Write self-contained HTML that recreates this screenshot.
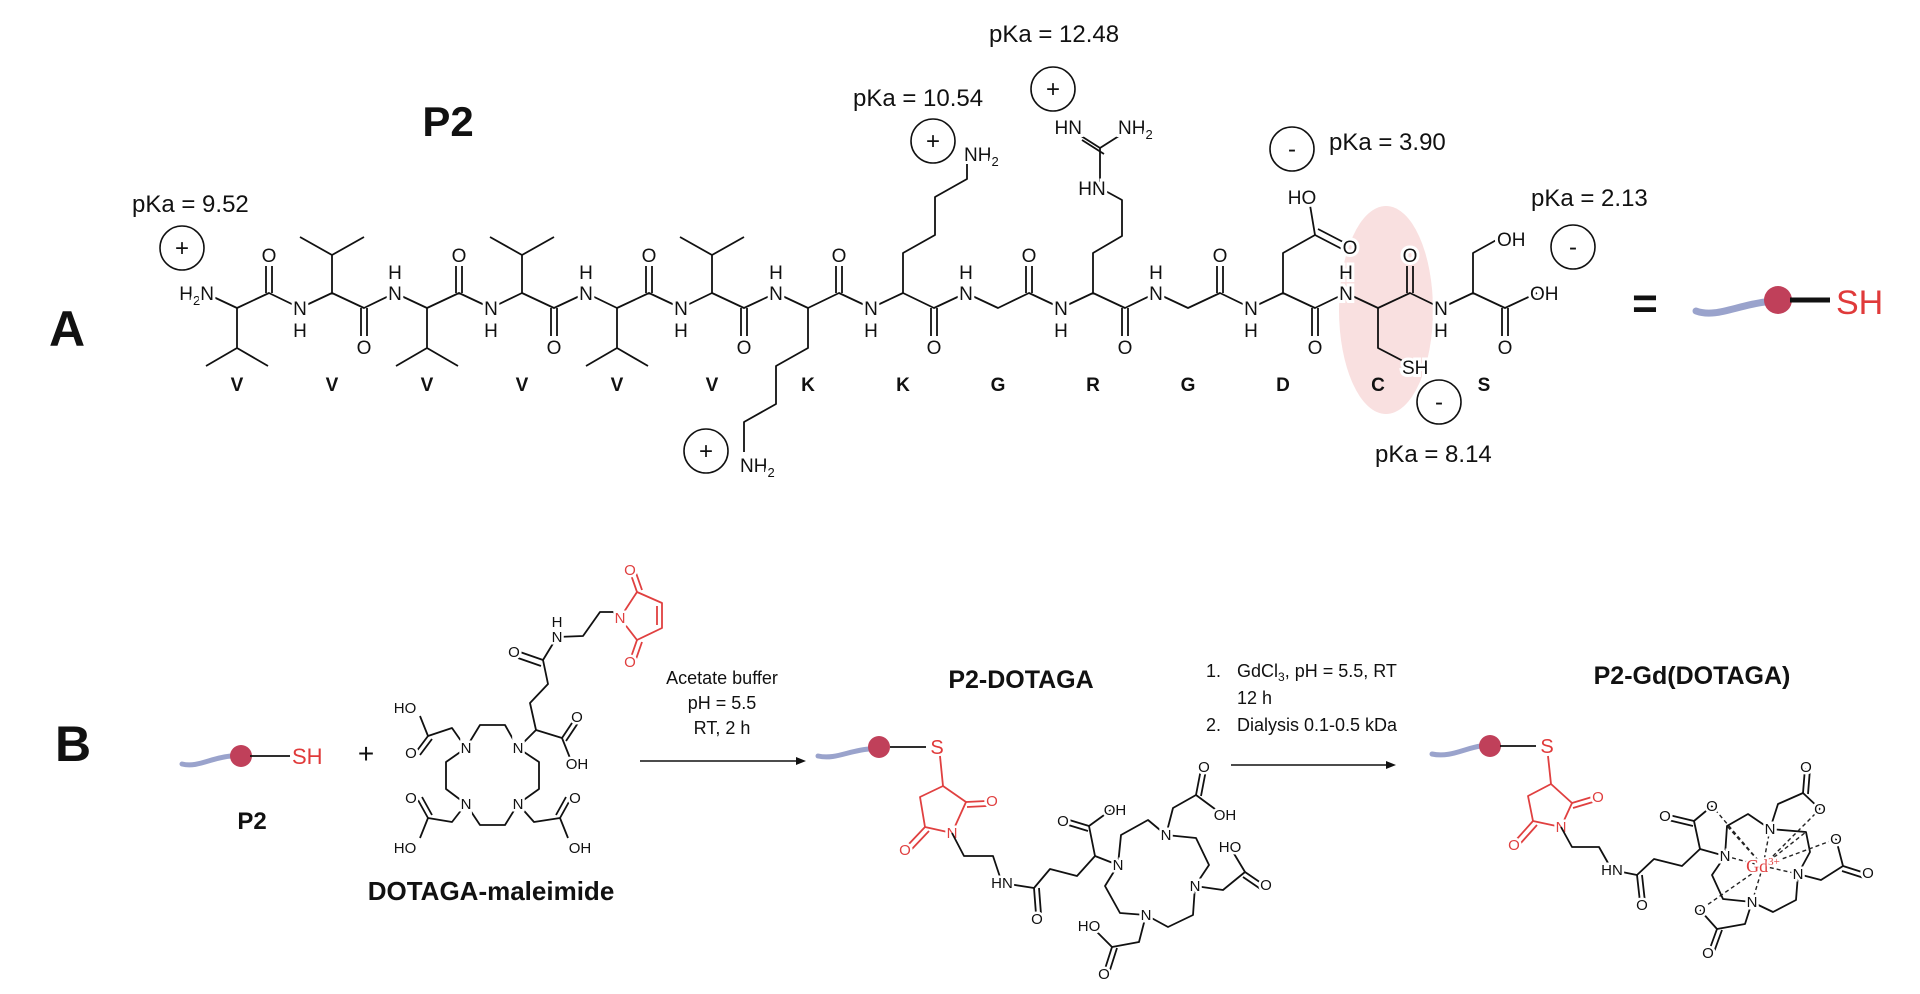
<!DOCTYPE html>
<html><head><meta charset="utf-8"><style>
html,body{margin:0;padding:0;background:#fff;}
svg{display:block;}
text{font-family:"Liberation Sans",sans-serif;}
.l{fill:none;stroke:#111;stroke-width:1.8;stroke-linejoin:round;}
.r{fill:none;stroke:#e04040;stroke-width:1.8;stroke-linejoin:round;}
.a{font-size:19px;fill:#111;text-anchor:middle;paint-order:stroke;stroke:#fff;stroke-width:6px;}
.s{font-size:15px;fill:#111;text-anchor:middle;paint-order:stroke;stroke:#fff;stroke-width:5px;}
.sr{font-size:15px;fill:#e04040;text-anchor:middle;paint-order:stroke;stroke:#fff;stroke-width:5px;}
.p{font-size:24px;fill:#111;}
.res{font-size:19px;font-weight:bold;fill:#111;text-anchor:middle;}
.c{fill:none;stroke:#111;stroke-width:1.6;}
.sg{font-size:24px;fill:#111;text-anchor:middle;}
.t{font-weight:bold;fill:#111;text-anchor:middle;}
.d{fill:none;stroke:#222;stroke-width:1.4;stroke-dasharray:4 3;}
</style></head><body>
<svg width="1920" height="994" viewBox="0 0 1920 994" xmlns="http://www.w3.org/2000/svg">
<rect width="1920" height="994" fill="#fff"/>
<!-- Part A -->
<text x="67" y="346" class="t" style="font-size:50px">A</text>
<text x="448" y="136" class="t" style="font-size:42px">P2</text>
<ellipse cx="1386" cy="310" rx="47" ry="104" fill="#f9e0e0"/>

<polyline class="l" points="205,293 237,308 269,293 300,308 332,293 364,308 395,293 427,308 459,293 491,308 522,293 554,308 586,293 617,308 649,293 681,308 712,293 744,308 776,293 808,308 839,293 871,308 903,293 934,308 966,293 998,308 1029,293 1061,308 1093,293 1125,308 1156,293 1188,308 1220,293 1251,308 1283,293 1315,308 1346,293 1378,308 1410,293 1441,308 1473,293 1505,308 1537,293"/>
<!-- carbonyl top -->
<g class="l">
<path d="M266,293V266M272,293V266M456,293V266M462,293V266M646,293V266M652,293V266M836,293V266M842,293V266M1026,293V266M1032,293V266M1217,293V266M1223,293V266M1407,293V266M1413,293V266"/>
<path d="M361,308V336M367,308V336M551,308V336M557,308V336M741,308V336M747,308V336M931,308V336M937,308V336M1122,308V336M1128,308V336M1312,308V336M1318,308V336M1502,308V336M1508,308V336"/>
<!-- valines -->
<path d="M237,308V348M206,366L237,348L268,366"/>
<path d="M332,293V255M300,237L332,255L364,237"/>
<path d="M427,308V348M396,366L427,348L458,366"/>
<path d="M522,293V255M490,237L522,255L554,237"/>
<path d="M617,308V348M586,366L617,348L648,366"/>
<path d="M712,293V255M680,237L712,255L744,237"/>
</g>
<polyline class="l" points="808,308 808,348 776,366 776,404 744,422 744,452"/>
<polyline class="l" points="903,293 903,253 935,235 935,197 967,179 967,160"/>
<polyline class="l" points="1093,293 1093,253 1122,236 1122,200 1100,188 1100,148"/>
<path class="l" d="M1100,148L1122,134M1100,148L1078,134M1104,154L1082,140"/>
<polyline class="l" points="1283,293 1283,253 1315,235 1310,205"/>
<path class="l" d="M1315,235L1342,249M1318,229L1345,243"/>
<polyline class="l" points="1378,308 1378,348 1405,362"/>
<polyline class="l" points="1473,293 1473,253 1500,238"/>

<g class="a">
<text x="214" y="300" text-anchor="end">H<tspan font-size="13" dy="5">2</tspan><tspan dy="-5">N</tspan></text>
<text x="269" y="262">O</text><text x="459" y="262">O</text><text x="649" y="262">O</text><text x="839" y="262">O</text><text x="1029" y="262">O</text><text x="1220" y="262">O</text><text x="1410" y="262">O</text>
<text x="364" y="354">O</text><text x="554" y="354">O</text><text x="744" y="354">O</text><text x="934" y="354">O</text><text x="1125" y="354">O</text><text x="1315" y="354">O</text><text x="1505" y="354">O</text>
<text x="395" y="300">N</text><text x="395" y="279">H</text>
<text x="586" y="300">N</text><text x="586" y="279">H</text>
<text x="776" y="300">N</text><text x="776" y="279">H</text>
<text x="966" y="300">N</text><text x="966" y="279">H</text>
<text x="1156" y="300">N</text><text x="1156" y="279">H</text>
<text x="1346" y="300">N</text><text x="1346" y="279">H</text>
<text x="300" y="315">N</text><text x="300" y="337">H</text>
<text x="491" y="315">N</text><text x="491" y="337">H</text>
<text x="681" y="315">N</text><text x="681" y="337">H</text>
<text x="871" y="315">N</text><text x="871" y="337">H</text>
<text x="1061" y="315">N</text><text x="1061" y="337">H</text>
<text x="1251" y="315">N</text><text x="1251" y="337">H</text>
<text x="1441" y="315">N</text><text x="1441" y="337">H</text>
<text x="740" y="472" text-anchor="start">NH<tspan font-size="13" dy="5">2</tspan></text>
<text x="964" y="161" text-anchor="start">NH<tspan font-size="13" dy="5">2</tspan></text>
<text x="1092" y="195">HN</text>
<text x="1082" y="134" text-anchor="end">HN</text>
<text x="1118" y="134" text-anchor="start">NH<tspan font-size="13" dy="5">2</tspan></text>
<text x="1302" y="204">HO</text>
<text x="1350" y="254">O</text>
<text x="1402" y="374" text-anchor="start">SH</text>
<text x="1497" y="246" text-anchor="start">OH</text>
<text x="1530" y="300" text-anchor="start">OH</text>
</g>

<g class="res">
<text x="237" y="391">V</text><text x="332" y="391">V</text><text x="427" y="391">V</text><text x="522" y="391">V</text><text x="617" y="391">V</text><text x="712" y="391">V</text>
<text x="808" y="391">K</text><text x="903" y="391">K</text><text x="998" y="391">G</text><text x="1093" y="391">R</text><text x="1188" y="391">G</text><text x="1283" y="391">D</text><text x="1378" y="391">C</text><text x="1484" y="391">S</text>
</g>

<g class="p">
<text x="132" y="212">pKa = 9.52</text>
<text x="853" y="106">pKa = 10.54</text>
<text x="989" y="42">pKa = 12.48</text>
<text x="1329" y="150">pKa = 3.90</text>
<text x="1531" y="206">pKa = 2.13</text>
<text x="1375" y="462">pKa = 8.14</text>
</g>
<g>
<circle class="c" cx="182" cy="248" r="22"/><text class="sg" x="182" y="256">+</text>
<circle class="c" cx="933" cy="141" r="22"/><text class="sg" x="933" y="149">+</text>
<circle class="c" cx="1053" cy="89" r="22"/><text class="sg" x="1053" y="97">+</text>
<circle class="c" cx="706" cy="451" r="22"/><text class="sg" x="706" y="459">+</text>
<circle class="c" cx="1292" cy="149" r="22"/><text class="sg" x="1292" y="157">-</text>
<circle class="c" cx="1573" cy="247" r="22"/><text class="sg" x="1573" y="255">-</text>
<circle class="c" cx="1439" cy="402" r="22"/><text class="sg" x="1439" y="410">-</text>
</g>
<text x="1645" y="318" class="t" style="font-size:44px">=</text>
<path d="M1696,311 C1715,318 1735,306 1765,302" fill="none" stroke="#9aa3cc" stroke-width="7" stroke-linecap="round"/>
<circle cx="1778" cy="300" r="14" fill="#c0405a"/>
<path d="M1790,300H1830" stroke="#111" stroke-width="5"/>
<text x="1836" y="314" style="font-size:34px;fill:#e03a3a">SH</text>

<!-- Part B -->
<text x="73" y="761" class="t" style="font-size:50px">B</text>
<path d="M182,764 C198,768 212,757 232,756" fill="none" stroke="#9aa3cc" stroke-width="5" stroke-linecap="round"/>
<circle cx="241" cy="756" r="11" fill="#c0405a"/>
<path d="M250,756H290" stroke="#111" stroke-width="1.8"/>
<text x="292" y="764" style="font-size:22px;fill:#e03a3a">SH</text>
<text x="252" y="829" class="t" style="font-size:24px">P2</text>
<text x="366" y="763" class="t" style="font-size:28px;font-weight:normal">+</text>

<!-- DOTAGA-maleimide -->
<polygon class="l" points="466,748 480,725 505,725 518,748 539,762 539,789 518,804 505,825 480,825 466,804 446,789 446,762"/>
<polyline class="l" points="466,748 452,728 428,736 420,716"/>
<path class="l" d="M428,736L416,752M432,739L420,755"/>
<polyline class="l" points="466,804 452,822 428,818 420,838"/>
<path class="l" d="M428,818L418,800M432,815L422,797"/>
<polyline class="l" points="518,804 534,822 560,818 568,838"/>
<path class="l" d="M560,818L570,800M556,815L566,797"/>
<polyline class="l" points="518,748 536,730 562,738 570,758"/>
<path class="l" d="M562,738L574,720M566,741L578,723"/>
<polyline class="l" points="536,730 530,703 548,684 543,660 557,637 583,636 600,612 613,612 620,618"/>
<path class="l" d="M543,660L520,652M541,666L518,658"/>
<polygon class="r" points="620,618 637,592 662,603 662,628 637,640"/>
<path class="r" d="M657,606V625M637,592L630,572M642,590L635,570M637,640L630,660M642,642L635,662"/>
<g class="s">
<text x="466" y="753">N</text><text x="518" y="753">N</text><text x="466" y="809">N</text><text x="518" y="809">N</text>
<text x="405" y="713">HO</text><text x="411" y="758">O</text>
<text x="411" y="803">O</text><text x="405" y="853">HO</text>
<text x="575" y="803">O</text><text x="580" y="853">OH</text>
<text x="577" y="722">O</text><text x="577" y="769">OH</text>
<text x="514" y="657">O</text>
<text x="557" y="642">N</text><text x="557" y="627">H</text>
</g>
<g class="sr"><text x="620" y="623">N</text><text x="630" y="575">O</text><text x="630" y="667">O</text></g>
<text x="491" y="900" class="t" style="font-size:26px">DOTAGA-maleimide</text>

<!-- arrow 1 -->
<path d="M640,761H798" stroke="#111" stroke-width="1.6"/>
<polygon points="806,761 796,757 796,765" fill="#111"/>
<g style="font-size:18px;fill:#111;text-anchor:middle">
<text x="722" y="684">Acetate buffer</text>
<text x="722" y="709">pH = 5.5</text>
<text x="722" y="734">RT, 2 h</text>
</g>

<!-- P2-DOTAGA -->
<text x="1021" y="688" class="t" style="font-size:25px">P2-DOTAGA</text>
<path d="M818,756 C835,760 850,750 870,749" fill="none" stroke="#9aa3cc" stroke-width="5" stroke-linecap="round"/>
<circle cx="879" cy="747" r="11" fill="#c0405a"/>
<path d="M890,747H926" stroke="#111" stroke-width="1.8"/>
<text x="937" y="754" style="font-size:20px;fill:#e03a3a;text-anchor:middle">S</text>
<polyline class="r" points="940,756 943,786"/>
<polygon class="r" points="943,786 966,802 952,833 925,827 920,797"/>
<path class="r" d="M966,802L986,801M967,807L987,806M925,827L907,846M929,831L911,850"/>
<g class="sr"><text x="952" y="838">N</text><text x="992" y="806">O</text><text x="905" y="855">O</text></g>
<polyline class="l" points="952,833 964,856 993,856 1002,883 1034,888 1050,869 1077,876 1095,856 1118,865"/>
<path class="l" d="M1034,888L1036,914M1039,888L1041,914"/>
<polyline class="l" points="1095,856 1089,826 1111,810"/>
<path class="l" d="M1089,826L1066,819M1088,831L1065,824"/>
<polygon class="l" points="1118,865 1121,835 1148,820 1166,835 1196,838 1209,865 1195,886 1193,915 1168,927 1146,915 1120,913 1105,886"/>
<polyline class="l" points="1166,835 1173,808 1196,795 1223,815"/>
<path class="l" d="M1196,795L1201,769M1201,796L1206,770"/>
<polyline class="l" points="1195,886 1223,890 1245,872 1230,847"/>
<path class="l" d="M1245,872L1264,885M1243,877L1262,890"/>
<polyline class="l" points="1146,915 1139,942 1112,947 1091,926"/>
<path class="l" d="M1112,947L1104,972M1117,948L1109,973"/>
<g class="s">
<text x="1002" y="888">HN</text><text x="1037" y="924">O</text>
<text x="1063" y="826">O</text><text x="1115" y="815">OH</text>
<text x="1118" y="870">N</text><text x="1166" y="840">N</text><text x="1195" y="891">N</text><text x="1146" y="920">N</text>
<text x="1204" y="772">O</text><text x="1225" y="820">OH</text>
<text x="1266" y="890">O</text><text x="1230" y="852">HO</text>
<text x="1104" y="979">O</text><text x="1089" y="931">HO</text>
</g>

<!-- arrow 2 -->
<path d="M1231,765H1388" stroke="#111" stroke-width="1.6"/>
<polygon points="1396,765 1386,761 1386,769" fill="#111"/>
<g style="font-size:18px;fill:#111">
<text x="1206" y="677">1.</text><text x="1237" y="677">GdCl<tspan font-size="12" dy="4">3</tspan><tspan dy="-4">, pH = 5.5, RT</tspan></text>
<text x="1237" y="704">12 h</text>
<text x="1206" y="731">2.</text><text x="1237" y="731">Dialysis 0.1-0.5 kDa</text>
</g>

<!-- P2-Gd(DOTAGA) -->
<text x="1692" y="684" class="t" style="font-size:25px">P2-Gd(DOTAGA)</text>
<path d="M1432,754 C1450,758 1465,748 1481,746" fill="none" stroke="#9aa3cc" stroke-width="5" stroke-linecap="round"/>
<circle cx="1490" cy="746" r="11" fill="#c0405a"/>
<path d="M1500,746H1536" stroke="#111" stroke-width="1.8"/>
<text x="1547" y="753" style="font-size:20px;fill:#e03a3a;text-anchor:middle">S</text>
<polyline class="r" points="1548,756 1551,784"/>
<polygon class="r" points="1551,784 1572,803 1561,827 1533,821 1528,796"/>
<path class="r" d="M1572,803L1592,797M1573,808L1593,802M1533,821L1516,840M1537,825L1520,844"/>
<g class="sr"><text x="1561" y="832">N</text><text x="1598" y="802">O</text><text x="1514" y="850">O</text></g>
<polyline class="l" points="1561,827 1572,847 1599,847 1612,870 1637,875 1654,859 1682,866 1700,849 1725,856"/>
<path class="l" d="M1637,875L1640,902M1642,875L1645,902"/>
<polyline class="l" points="1700,849 1694,821 1712,806"/>
<path class="l" d="M1694,821L1669,815M1693,826L1668,820"/>
<polygon class="l" points="1725,856 1727,826 1748,814 1770,829 1806,832 1810,852 1798,874 1796,900 1773,912 1752,902 1723,899 1712,875"/>
<polyline class="l" points="1770,829 1778,804 1803,793 1820,809"/>
<path class="l" d="M1803,793L1805,768M1808,794L1810,769"/>
<polyline class="l" points="1798,874 1821,880 1843,866 1836,839"/>
<path class="l" d="M1843,866L1865,873M1842,871L1864,878"/>
<polyline class="l" points="1752,902 1745,924 1717,929 1700,910"/>
<path class="l" d="M1717,929L1709,951M1722,930L1714,952"/>
<g class="d">
<path d="M1763,866L1725,856M1763,866L1770,829M1763,866L1798,874M1763,866L1752,902M1763,866L1712,806M1763,866L1820,809M1763,866L1836,839M1763,866L1700,910M1763,866L1727,826M1763,866L1806,832"/>
</g>
<g class="s">
<text x="1612" y="875">HN</text><text x="1642" y="910">O</text>
<text x="1665" y="821">O</text><text x="1712" y="811">O</text>
<text x="1725" y="861">N</text><text x="1770" y="834">N</text><text x="1798" y="879">N</text><text x="1752" y="907">N</text>
<text x="1806" y="772">O</text><text x="1820" y="814">O</text>
<text x="1868" y="878">O</text><text x="1836" y="844">O</text>
<text x="1708" y="958">O</text><text x="1700" y="915">O</text>
</g>
<text x="1763" y="872" style="font-family:'Liberation Serif',serif;font-size:18px;fill:#e04040;text-anchor:middle;paint-order:stroke;stroke:#fff;stroke-width:4px">Gd<tspan font-size="11" dy="-7">3+</tspan></text>
</svg>
</body></html>
